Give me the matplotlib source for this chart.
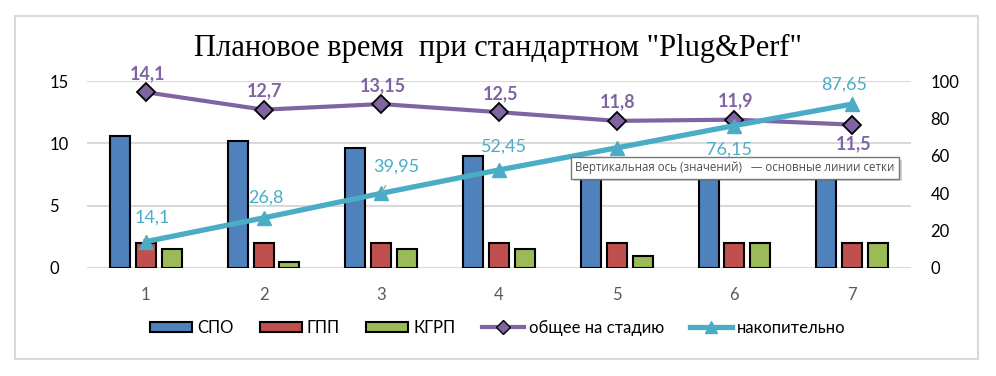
import matplotlib
matplotlib.use('Agg')
import matplotlib.pyplot as plt
import matplotlib.patches as mpatches
import matplotlib.patheffects as pe
from matplotlib.lines import Line2D
import numpy as np

plt.rcParams['font.family'] = ['Lato', 'DejaVu Sans']

# data
stages = [1, 2, 3, 4, 5, 6, 7]
spo = [10.6, 10.2, 9.65, 9.0, 8.8, 7.9, 7.5]
gpp = [2, 2, 2, 2, 2, 2, 2]
kgrp = [1.5, 0.5, 1.5, 1.5, 1.0, 2.0, 2.0]
total = [14.1, 12.7, 13.15, 12.5, 11.8, 11.9, 11.5]
cumul = [14.1, 26.8, 39.95, 52.45, 64.25, 76.15, 87.65]
total_lbl = ['14,1', '12,7', '13,15', '12,5', '11,8', '11,9', '11,5']
cumul_lbl = ['14,1', '26,8', '39,95', '52,45', '', '76,15', '87,65']  # 5th label is hidden in the original

c_blue = '#4F81BD'
c_red = '#C0504D'
c_green = '#9BBB59'
c_purple = '#8064A2'
c_cyan = '#4BACC6'
c_grid = '#D9D9D9'

fig = plt.figure(figsize=(9.96, 3.76), dpi=100)
# outer chart frame
fig.patches.append(mpatches.Rectangle((15/996, 1-359/376), 963/996, 343/376,
                                      transform=fig.transFigure, fill=False,
                                      edgecolor=c_grid, linewidth=1.5))

ax = fig.add_axes([87/996, 1-268/376, 824/996, 187/376])
x = np.array(stages)
w = 0.17
step = 0.22
ax.bar(x - step, spo, w, color=c_blue, edgecolor='black', linewidth=1.5, zorder=2)
ax.bar(x, gpp, w, color=c_red, edgecolor='black', linewidth=1.5, zorder=2)
ax.bar(x + step, kgrp, w, color=c_green, edgecolor='black', linewidth=1.5, zorder=2)
ax.plot(x, total, color=c_purple, linewidth=3, marker='D', markersize=9,
        markerfacecolor=c_purple, markeredgecolor='black', markeredgewidth=1.3, zorder=3)

ax.set_xlim(0.5, 7.5)
ax.set_ylim(0, 15)
ax.set_yticks([0, 5, 10, 15])
ax.set_xticks(stages)
ax.grid(axis='y', color=c_grid, linewidth=1.5, zorder=0)
ax.set_axisbelow(True)
for s in ax.spines.values():
    s.set_visible(False)
ax.tick_params(axis='both', length=0, labelsize=12)
ax.tick_params(axis='x', colors='#595959', pad=14)
ax.tick_params(axis='y', pad=27)
for lab in ax.get_yticklabels():
    lab.set_horizontalalignment('left')

for i, (xv, yv) in enumerate(zip(x, total)):
    dy = -13.5 if i == 6 else 13.5
    ax.annotate(total_lbl[i], (xv, yv), xytext=(1, dy), textcoords='offset points',
                ha='center', va='center', color=c_purple, fontsize=13,
                fontweight='bold', zorder=5)

ax2 = ax.twinx()
ax2.plot(x, cumul, color=c_cyan, linewidth=3.8, marker='^', markersize=10,
         markerfacecolor=c_cyan, markeredgecolor=c_cyan, zorder=3)
ax2.set_ylim(0, 100)
ax2.set_yticks([0, 20, 40, 60, 80, 100])
for s in ax2.spines.values():
    s.set_visible(False)
ax2.tick_params(axis='y', length=0, labelsize=12, pad=14)

cyan_off = [(4.5, 17), (2, 14.5), (11, 19.5), (3.6, 16.5), (0, 16), (-3.6, -17), (-6, 14)]
for i, (xv, yv) in enumerate(zip(x, cumul)):
    if not cumul_lbl[i]:
        continue
    arrow = None
    if i in (0, 2):
        arrow = dict(arrowstyle='-', color='#A6A6A6', lw=1, shrinkA=7, shrinkB=2)
    ax2.annotate(cumul_lbl[i], (xv, yv), xytext=cyan_off[i], textcoords='offset points',
                 ha='center', va='center', color=c_cyan, fontsize=13, zorder=5,
                 arrowprops=arrow)

fig.text(0.5, 1-48/376, 'Плановое время  при стандартном "Plug&Perf"',
         ha='center', va='center', fontsize=22, family='Liberation Serif')

handles = [
    mpatches.Patch(facecolor=c_blue, edgecolor='black', linewidth=1.5, label='СПО'),
    mpatches.Patch(facecolor=c_red, edgecolor='black', linewidth=1.5, label='ГПП'),
    mpatches.Patch(facecolor=c_green, edgecolor='black', linewidth=1.5, label='КГРП'),
    Line2D([], [], color=c_purple, linewidth=3, marker='D', markersize=7,
           markerfacecolor=c_purple, markeredgecolor='black', label='общее на стадию'),
    Line2D([], [], color=c_cyan, linewidth=3.8, marker='^', markersize=8,
           markerfacecolor=c_cyan, markeredgecolor=c_cyan, label='накопительно'),
]
fig.legend(handles=handles, loc='center', bbox_to_anchor=(0.5, 1-328/376), ncol=5,
           frameon=False, fontsize=12, handlelength=2.5, handleheight=0.6,
           handletextpad=0.3, columnspacing=1.6)

# tooltip box shown over the chart
tip = fig.text(735/996, 1-168/376, 'Вертикальная ось (значений)   — основные линии сетки',
               ha='center', va='center', fontsize=8.3, color='#505050', zorder=20,
               family=['Open Sans', 'DejaVu Sans'],
               bbox=dict(boxstyle='square,pad=0.35', facecolor='white', edgecolor='#767676',
                         linewidth=1))
tip.get_bbox_patch().set_path_effects([pe.SimplePatchShadow(offset=(2, -2), alpha=0.25),
                                       pe.Normal()])

fig.savefig('out.png', dpi=100)
